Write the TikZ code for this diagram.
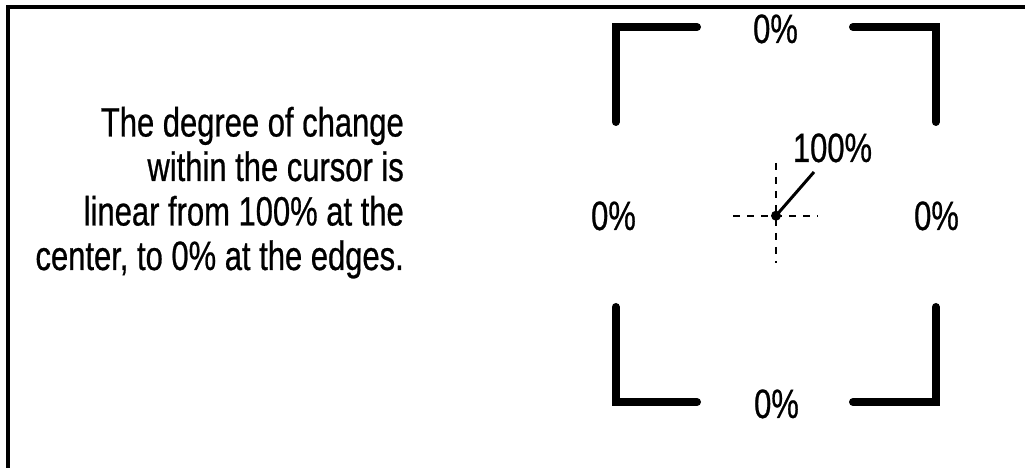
\documentclass[tikz,border=0pt]{standalone}
\usepackage{fontspec}
\setmainfont{Liberation Sans}[FakeStretch=0.755, FakeBold=0.6]
\usetikzlibrary{positioning}
\tikzset{
  caption/.style={font=\fontsize{41}{44.5}\selectfont, inner sep=0pt, align=right},
  pct/.style={font=\fontsize{41}{44.5}\selectfont, inner sep=0pt, anchor=base},
  frame/.style={line width=4pt, line join=miter},
  bracket/.style={line width=8pt, line cap=round, line join=miter},
  cross/.style={line width=2pt, dash pattern=on 7pt off 7pt},
  leader/.style={line width=3pt}
}

\begin{document}
\begin{tikzpicture}[x=1pt,y=1pt]
\useasboundingbox (0,0) rectangle (1025,468);

% outer frame, top and left only
\draw[frame] (1025,461) -- (8,461) -- (8,0);

\node[caption, anchor=base east] (txt) at (404,198)
{The degree of change\\within the cursor is\\linear from 100\% at the\\center, to 0\% at the edges.};

% cursor corners
\draw[bracket] (697,441) -- (615.7,441) -- (615.7,346);
\draw[bracket] (853,441) -- (935.7,441) -- (935.7,346);
\draw[bracket] (615.7,161) -- (615.7,66) -- (697,66);
\draw[bracket] (935.7,161) -- (935.7,66) -- (853,66);

\node[pct] (top) at (775.5,425) {0\%};
\node[pct] (left) at (613.5,238) {0\%};
\node[pct] (right) at (936.5,238) {0\%};
\node[pct] (bottom) at (776.5,50) {0\%};
\node[pct] (full) at (832.5,306) {100\%};

% center point
\node[circle, fill, inner sep=0pt, minimum size=10pt] (ctr) at (776,252.3) {};
\coordinate (hl) at (733,252.3);
\coordinate (hr) at (818,252.3);
\coordinate (vt) at (776,305);
\coordinate (vb) at (776,205);
\draw[cross] (hl) -- (hr);
\draw[cross] (vt) -- (vb);
\coordinate (tip) at (814,296);
\draw[leader] (ctr.center) -- (tip);

\end{tikzpicture}
\end{document}
